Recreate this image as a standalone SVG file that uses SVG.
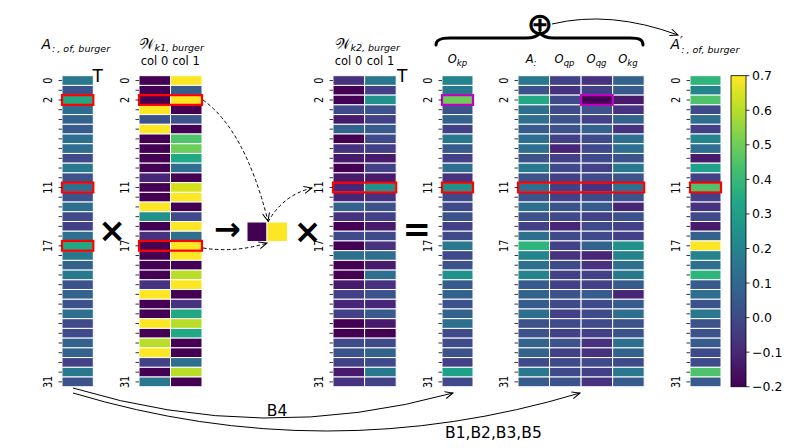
<svg xmlns="http://www.w3.org/2000/svg" width="789" height="448" viewBox="0 0 789 448">
<style>
text{font-family:"DejaVu Sans","Liberation Sans",sans-serif;fill:#000}
.it{font-style:italic}
.lab{font-size:12.5px;text-anchor:middle}
.col{font-size:11.5px;text-anchor:middle}
.cb{font-size:12.5px}
.hm rect{stroke:#fff;stroke-width:1;vector-effect:non-scaling-stroke}
.hl{fill:none;stroke:#f00;stroke-width:2.2}
.mg{fill:none;stroke:#bf00bf;stroke-width:2.2}
.tk{stroke:#000;stroke-width:0.8;fill:none}
.op{font-weight:bold;text-anchor:middle}
.con{fill:none;stroke:#000;stroke-width:1}
.dash{stroke-dasharray:3.5,2.5}
.a{fill:#440154}.b{fill:#481a6c}.c{fill:#482677}.d{fill:#46327e}.e{fill:#424086}.f{fill:#3e4a89}.g{fill:#3b528b}.h{fill:#375b8d}.i{fill:#33638d}.j{fill:#2e6e8e}.k{fill:#2a788e}.l{fill:#25838e}.m{fill:#21918c}.n{fill:#1fa088}.o{fill:#22a884}.p{fill:#2fb47c}.q{fill:#4ec36b}.r{fill:#6ccd5a}.s{fill:#b8de29}.t{fill:#d5e21a}.u{fill:#fde725}
</style>
<defs>
<path id="tk" class="tk" d="M0,80.56h-3.5M0,90.28h-3.5M0,100h-3.5M0,109.72h-3.5M0,119.44h-3.5M0,129.16h-3.5M0,138.88h-3.5M0,148.6h-3.5M0,158.32h-3.5M0,168.04h-3.5M0,177.76h-3.5M0,187.48h-3.5M0,197.2h-3.5M0,206.92h-3.5M0,216.64h-3.5M0,226.36h-3.5M0,236.08h-3.5M0,245.8h-3.5M0,255.52h-3.5M0,265.24h-3.5M0,274.96h-3.5M0,284.68h-3.5M0,294.4h-3.5M0,304.12h-3.5M0,313.84h-3.5M0,323.56h-3.5M0,333.28h-3.5M0,343h-3.5M0,352.72h-3.5M0,362.44h-3.5M0,372.16h-3.5M0,381.88h-3.5"/>
<marker id="ah" markerWidth="10" markerHeight="10" refX="8" refY="4" orient="auto" markerUnits="userSpaceOnUse"><path d="M0,0.5 L8,4 L0,7.5" fill="none" stroke="#000" stroke-width="1"/></marker>
<linearGradient id="vir" x1="0" y1="1" x2="0" y2="0">
<stop offset="0" stop-color="#440154"/><stop offset="0.1" stop-color="#482475"/><stop offset="0.2" stop-color="#414487"/><stop offset="0.3" stop-color="#355f8d"/><stop offset="0.4" stop-color="#2a788e"/><stop offset="0.5" stop-color="#21918c"/><stop offset="0.6" stop-color="#22a884"/><stop offset="0.7" stop-color="#44bf70"/><stop offset="0.8" stop-color="#7ad151"/><stop offset="0.9" stop-color="#bddf26"/><stop offset="1" stop-color="#fde725"/>
</linearGradient>
</defs>

<g id="matA">
<text x="41.5" y="49.3" class="it" font-size="14">A<tspan font-size="9.5" dy="2.4" dx="1">:</tspan><tspan font-size="9.5" dx="2">, of, burger</tspan></text>
<text x="92.5" y="81.7" font-size="17">T</text>
<g class="hm" transform="translate(62,75.7) scale(31.3,9.72)">
<rect y="0" width="1" height="1" class="k"/><rect y="1" width="1" height="1" class="g"/><rect y="2" width="1" height="1" class="o"/><rect y="3" width="1" height="1" class="j"/><rect y="4" width="1" height="1" class="i"/><rect y="5" width="1" height="1" class="h"/><rect y="6" width="1" height="1" class="j"/><rect y="7" width="1" height="1" class="j"/><rect y="8" width="1" height="1" class="f"/><rect y="9" width="1" height="1" class="k"/><rect y="10" width="1" height="1" class="g"/><rect y="11" width="1" height="1" class="j"/><rect y="12" width="1" height="1" class="g"/><rect y="13" width="1" height="1" class="j"/><rect y="14" width="1" height="1" class="f"/><rect y="15" width="1" height="1" class="e"/><rect y="16" width="1" height="1" class="j"/><rect y="17" width="1" height="1" class="o"/><rect y="18" width="1" height="1" class="k"/><rect y="19" width="1" height="1" class="i"/><rect y="20" width="1" height="1" class="k"/><rect y="21" width="1" height="1" class="g"/><rect y="22" width="1" height="1" class="i"/><rect y="23" width="1" height="1" class="g"/><rect y="24" width="1" height="1" class="j"/><rect y="25" width="1" height="1" class="f"/><rect y="26" width="1" height="1" class="f"/><rect y="27" width="1" height="1" class="i"/><rect y="28" width="1" height="1" class="i"/><rect y="29" width="1" height="1" class="e"/><rect y="30" width="1" height="1" class="k"/><rect y="31" width="1" height="1" class="g"/>
</g>
<rect class="hl" x="62" y="95.14" width="31.3" height="9.72"/><rect class="hl" x="62" y="182.62" width="31.3" height="9.72"/><rect class="hl" x="62" y="240.94" width="31.3" height="9.72"/>
<use href="#tk" x="62"/>
<g class="lab"><text transform="translate(51.5,80.56) rotate(-90) scale(0.78,1)">0</text><text transform="translate(51.5,100) rotate(-90) scale(0.78,1)">2</text><text transform="translate(51.5,187.48) rotate(-90) scale(0.78,1)">11</text><text transform="translate(51.5,245.8) rotate(-90) scale(0.78,1)">17</text><text transform="translate(51.5,381.88) rotate(-90) scale(0.78,1)">31</text></g>
</g>

<g id="matW1">
<text x="138.5" y="49" font-size="14.5">𝒲<tspan class="it" font-size="9.5" dy="1.7">k1, burger</tspan></text>
<text class="col" x="154.5" y="64.5">col 0</text><text class="col" x="186" y="64.5">col 1</text>
<g class="hm" transform="translate(139,75.7) scale(31.5,9.72)">
<rect y="0" width="1" height="1" class="a"/><rect y="1" width="1" height="1" class="a"/><rect y="2" width="1" height="1" class="a"/><rect y="3" width="1" height="1" class="u"/><rect y="4" width="1" height="1" class="g"/><rect y="5" width="1" height="1" class="u"/><rect y="6" width="1" height="1" class="a"/><rect y="7" width="1" height="1" class="a"/><rect y="8" width="1" height="1" class="a"/><rect y="9" width="1" height="1" class="a"/><rect y="10" width="1" height="1" class="c"/><rect y="11" width="1" height="1" class="a"/><rect y="12" width="1" height="1" class="a"/><rect y="13" width="1" height="1" class="u"/><rect y="14" width="1" height="1" class="m"/><rect y="15" width="1" height="1" class="a"/><rect y="16" width="1" height="1" class="d"/><rect y="17" width="1" height="1" class="a"/><rect y="18" width="1" height="1" class="a"/><rect y="19" width="1" height="1" class="a"/><rect y="20" width="1" height="1" class="a"/><rect y="21" width="1" height="1" class="d"/><rect y="22" width="1" height="1" class="u"/><rect y="23" width="1" height="1" class="a"/><rect y="24" width="1" height="1" class="a"/><rect y="25" width="1" height="1" class="u"/><rect y="26" width="1" height="1" class="a"/><rect y="27" width="1" height="1" class="s"/><rect y="28" width="1" height="1" class="u"/><rect y="29" width="1" height="1" class="e"/><rect y="30" width="1" height="1" class="a"/><rect y="31" width="1" height="1" class="k"/>
<rect x="1" y="0" width="1" height="1" class="u"/><rect x="1" y="1" width="1" height="1" class="h"/><rect x="1" y="2" width="1" height="1" class="u"/><rect x="1" y="3" width="1" height="1" class="a"/><rect x="1" y="4" width="1" height="1" class="g"/><rect x="1" y="5" width="1" height="1" class="a"/><rect x="1" y="6" width="1" height="1" class="q"/><rect x="1" y="7" width="1" height="1" class="r"/><rect x="1" y="8" width="1" height="1" class="o"/><rect x="1" y="9" width="1" height="1" class="j"/><rect x="1" y="10" width="1" height="1" class="a"/><rect x="1" y="11" width="1" height="1" class="t"/><rect x="1" y="12" width="1" height="1" class="u"/><rect x="1" y="13" width="1" height="1" class="a"/><rect x="1" y="14" width="1" height="1" class="f"/><rect x="1" y="15" width="1" height="1" class="u"/><rect x="1" y="16" width="1" height="1" class="j"/><rect x="1" y="17" width="1" height="1" class="u"/><rect x="1" y="18" width="1" height="1" class="u"/><rect x="1" y="19" width="1" height="1" class="a"/><rect x="1" y="20" width="1" height="1" class="s"/><rect x="1" y="21" width="1" height="1" class="u"/><rect x="1" y="22" width="1" height="1" class="a"/><rect x="1" y="23" width="1" height="1" class="d"/><rect x="1" y="24" width="1" height="1" class="o"/><rect x="1" y="25" width="1" height="1" class="s"/><rect x="1" y="26" width="1" height="1" class="o"/><rect x="1" y="27" width="1" height="1" class="a"/><rect x="1" y="28" width="1" height="1" class="a"/><rect x="1" y="29" width="1" height="1" class="j"/><rect x="1" y="30" width="1" height="1" class="s"/><rect x="1" y="31" width="1" height="1" class="a"/>
</g>
<rect class="hl" x="139" y="95.14" width="63" height="9.72"/><rect class="hl" x="139" y="240.94" width="63" height="9.72"/>
<use href="#tk" x="139"/>
<g class="lab"><text transform="translate(128.5,80.56) rotate(-90) scale(0.78,1)">0</text><text transform="translate(128.5,100) rotate(-90) scale(0.78,1)">2</text><text transform="translate(128.5,187.48) rotate(-90) scale(0.78,1)">11</text><text transform="translate(128.5,245.8) rotate(-90) scale(0.78,1)">17</text><text transform="translate(128.5,381.88) rotate(-90) scale(0.78,1)">31</text></g>
</g>

<g id="opTimes1"><text class="op" x="112" y="241.5" font-size="33">×</text></g>
<g id="opArrow"><text class="op" x="227.5" y="240" font-size="32">→</text></g>

<g id="vec">
<rect x="247" y="222" width="20" height="19.5" class="a" stroke="#fff" stroke-width="1"/>
<rect x="267" y="222" width="20.5" height="19.5" class="u" stroke="#fff" stroke-width="1"/>
</g>

<g id="opTimes2"><text class="op" x="307.5" y="243" font-size="33">×</text></g>

<g id="matW2">
<text x="334.5" y="49" font-size="14.5">𝒲<tspan class="it" font-size="9.5" dy="1.7">k2, burger</tspan></text>
<text class="col" x="348.5" y="64.5">col 0</text><text class="col" x="380.5" y="64.5">col 1</text>
<text x="397" y="81.7" font-size="17">T</text>
<g class="hm" transform="translate(333,75.7) scale(31.6,9.72)">
<rect y="0" width="1" height="1" class="d"/><rect y="1" width="1" height="1" class="a"/><rect y="2" width="1" height="1" class="a"/><rect y="3" width="1" height="1" class="f"/><rect y="4" width="1" height="1" class="b"/><rect y="5" width="1" height="1" class="i"/><rect y="6" width="1" height="1" class="a"/><rect y="7" width="1" height="1" class="d"/><rect y="8" width="1" height="1" class="b"/><rect y="9" width="1" height="1" class="a"/><rect y="10" width="1" height="1" class="b"/><rect y="11" width="1" height="1" class="c"/><rect y="12" width="1" height="1" class="c"/><rect y="13" width="1" height="1" class="i"/><rect y="14" width="1" height="1" class="d"/><rect y="15" width="1" height="1" class="a"/><rect y="16" width="1" height="1" class="f"/><rect y="17" width="1" height="1" class="a"/><rect y="18" width="1" height="1" class="j"/><rect y="19" width="1" height="1" class="a"/><rect y="20" width="1" height="1" class="a"/><rect y="21" width="1" height="1" class="b"/><rect y="22" width="1" height="1" class="e"/><rect y="23" width="1" height="1" class="c"/><rect y="24" width="1" height="1" class="e"/><rect y="25" width="1" height="1" class="a"/><rect y="26" width="1" height="1" class="a"/><rect y="27" width="1" height="1" class="f"/><rect y="28" width="1" height="1" class="g"/><rect y="29" width="1" height="1" class="e"/><rect y="30" width="1" height="1" class="b"/><rect y="31" width="1" height="1" class="d"/>
<rect x="1" y="0" width="1" height="1" class="k"/><rect x="1" y="1" width="1" height="1" class="e"/><rect x="1" y="2" width="1" height="1" class="m"/><rect x="1" y="3" width="1" height="1" class="g"/><rect x="1" y="4" width="1" height="1" class="e"/><rect x="1" y="5" width="1" height="1" class="h"/><rect x="1" y="6" width="1" height="1" class="f"/><rect x="1" y="7" width="1" height="1" class="e"/><rect x="1" y="8" width="1" height="1" class="b"/><rect x="1" y="9" width="1" height="1" class="e"/><rect x="1" y="10" width="1" height="1" class="b"/><rect x="1" y="11" width="1" height="1" class="m"/><rect x="1" y="12" width="1" height="1" class="d"/><rect x="1" y="13" width="1" height="1" class="g"/><rect x="1" y="14" width="1" height="1" class="e"/><rect x="1" y="15" width="1" height="1" class="b"/><rect x="1" y="16" width="1" height="1" class="f"/><rect x="1" y="17" width="1" height="1" class="d"/><rect x="1" y="18" width="1" height="1" class="j"/><rect x="1" y="19" width="1" height="1" class="b"/><rect x="1" y="20" width="1" height="1" class="j"/><rect x="1" y="21" width="1" height="1" class="d"/><rect x="1" y="22" width="1" height="1" class="g"/><rect x="1" y="23" width="1" height="1" class="c"/><rect x="1" y="24" width="1" height="1" class="h"/><rect x="1" y="25" width="1" height="1" class="b"/><rect x="1" y="26" width="1" height="1" class="a"/><rect x="1" y="27" width="1" height="1" class="f"/><rect x="1" y="28" width="1" height="1" class="i"/><rect x="1" y="29" width="1" height="1" class="f"/><rect x="1" y="30" width="1" height="1" class="k"/><rect x="1" y="31" width="1" height="1" class="e"/>
</g>
<rect class="hl" x="333" y="182.62" width="63.2" height="9.72"/>
<use href="#tk" x="333"/>
<g class="lab"><text transform="translate(322.5,80.56) rotate(-90) scale(0.78,1)">0</text><text transform="translate(322.5,100) rotate(-90) scale(0.78,1)">2</text><text transform="translate(322.5,187.48) rotate(-90) scale(0.78,1)">11</text><text transform="translate(322.5,245.8) rotate(-90) scale(0.78,1)">17</text><text transform="translate(322.5,381.88) rotate(-90) scale(0.78,1)">31</text></g>
</g>

<g id="opEq"><text class="op" x="416.7" y="241" font-size="34">=</text></g>

<g id="matOkp">
<text x="457.5" y="63" text-anchor="middle" class="it" font-size="11.5">O<tspan font-size="8.5" dy="2.5">kp</tspan></text>
<g class="hm" transform="translate(442,75.7) scale(31,9.72)">
<rect y="0" width="1" height="1" class="l"/><rect y="1" width="1" height="1" class="k"/><rect y="2" width="1" height="1" class="r"/><rect y="3" width="1" height="1" class="g"/><rect y="4" width="1" height="1" class="i"/><rect y="5" width="1" height="1" class="e"/><rect y="6" width="1" height="1" class="k"/><rect y="7" width="1" height="1" class="h"/><rect y="8" width="1" height="1" class="e"/><rect y="9" width="1" height="1" class="j"/><rect y="10" width="1" height="1" class="d"/><rect y="11" width="1" height="1" class="m"/><rect y="12" width="1" height="1" class="f"/><rect y="13" width="1" height="1" class="f"/><rect y="14" width="1" height="1" class="g"/><rect y="15" width="1" height="1" class="e"/><rect y="16" width="1" height="1" class="f"/><rect y="17" width="1" height="1" class="k"/><rect y="18" width="1" height="1" class="f"/><rect y="19" width="1" height="1" class="g"/><rect y="20" width="1" height="1" class="m"/><rect y="21" width="1" height="1" class="h"/><rect y="22" width="1" height="1" class="i"/><rect y="23" width="1" height="1" class="g"/><rect y="24" width="1" height="1" class="i"/><rect y="25" width="1" height="1" class="j"/><rect y="26" width="1" height="1" class="f"/><rect y="27" width="1" height="1" class="f"/><rect y="28" width="1" height="1" class="g"/><rect y="29" width="1" height="1" class="e"/><rect y="30" width="1" height="1" class="n"/><rect y="31" width="1" height="1" class="f"/>
</g>
<rect class="mg" x="442" y="95.14" width="31" height="9.72"/><rect class="hl" x="442" y="182.62" width="31" height="9.72"/>
<use href="#tk" x="442"/>
<g class="lab"><text transform="translate(431.5,80.56) rotate(-90) scale(0.78,1)">0</text><text transform="translate(431.5,100) rotate(-90) scale(0.78,1)">2</text><text transform="translate(431.5,187.48) rotate(-90) scale(0.78,1)">11</text><text transform="translate(431.5,245.8) rotate(-90) scale(0.78,1)">17</text><text transform="translate(431.5,381.88) rotate(-90) scale(0.78,1)">31</text></g>
</g>

<g id="matBig">
<g class="it" font-size="11.5" text-anchor="middle">
<text x="531" y="63">A<tspan font-size="8.5" dy="2.5">:</tspan></text>
<text x="564.5" y="63">O<tspan font-size="8.5" dy="2.5">qp</tspan></text>
<text x="596.5" y="63">O<tspan font-size="8.5" dy="2.5">qg</tspan></text>
<text x="628" y="63">O<tspan font-size="8.5" dy="2.5">kg</tspan></text>
</g>
<g class="hm" transform="translate(518,75.7) scale(31.55,9.72)">
<rect y="0" width="1" height="1" class="k"/><rect y="1" width="1" height="1" class="g"/><rect y="2" width="1" height="1" class="o"/><rect y="3" width="1" height="1" class="j"/><rect y="4" width="1" height="1" class="j"/><rect y="5" width="1" height="1" class="h"/><rect y="6" width="1" height="1" class="j"/><rect y="7" width="1" height="1" class="j"/><rect y="8" width="1" height="1" class="g"/><rect y="9" width="1" height="1" class="k"/><rect y="10" width="1" height="1" class="g"/><rect y="11" width="1" height="1" class="j"/><rect y="12" width="1" height="1" class="g"/><rect y="13" width="1" height="1" class="j"/><rect y="14" width="1" height="1" class="g"/><rect y="15" width="1" height="1" class="e"/><rect y="16" width="1" height="1" class="j"/><rect y="17" width="1" height="1" class="p"/><rect y="18" width="1" height="1" class="l"/><rect y="19" width="1" height="1" class="j"/><rect y="20" width="1" height="1" class="l"/><rect y="21" width="1" height="1" class="h"/><rect y="22" width="1" height="1" class="i"/><rect y="23" width="1" height="1" class="h"/><rect y="24" width="1" height="1" class="j"/><rect y="25" width="1" height="1" class="g"/><rect y="26" width="1" height="1" class="g"/><rect y="27" width="1" height="1" class="i"/><rect y="28" width="1" height="1" class="i"/><rect y="29" width="1" height="1" class="f"/><rect y="30" width="1" height="1" class="k"/><rect y="31" width="1" height="1" class="h"/>
<rect x="1" y="0" width="1" height="1" class="e"/><rect x="1" y="1" width="1" height="1" class="d"/><rect x="1" y="2" width="1" height="1" class="f"/><rect x="1" y="3" width="1" height="1" class="f"/><rect x="1" y="4" width="1" height="1" class="g"/><rect x="1" y="5" width="1" height="1" class="g"/><rect x="1" y="6" width="1" height="1" class="e"/><rect x="1" y="7" width="1" height="1" class="c"/><rect x="1" y="8" width="1" height="1" class="e"/><rect x="1" y="9" width="1" height="1" class="f"/><rect x="1" y="10" width="1" height="1" class="e"/><rect x="1" y="11" width="1" height="1" class="e"/><rect x="1" y="12" width="1" height="1" class="e"/><rect x="1" y="13" width="1" height="1" class="g"/><rect x="1" y="14" width="1" height="1" class="f"/><rect x="1" y="15" width="1" height="1" class="c"/><rect x="1" y="16" width="1" height="1" class="f"/><rect x="1" y="17" width="1" height="1" class="e"/><rect x="1" y="18" width="1" height="1" class="d"/><rect x="1" y="19" width="1" height="1" class="f"/><rect x="1" y="20" width="1" height="1" class="e"/><rect x="1" y="21" width="1" height="1" class="e"/><rect x="1" y="22" width="1" height="1" class="g"/><rect x="1" y="23" width="1" height="1" class="f"/><rect x="1" y="24" width="1" height="1" class="e"/><rect x="1" y="25" width="1" height="1" class="f"/><rect x="1" y="26" width="1" height="1" class="e"/><rect x="1" y="27" width="1" height="1" class="g"/><rect x="1" y="28" width="1" height="1" class="e"/><rect x="1" y="29" width="1" height="1" class="f"/><rect x="1" y="30" width="1" height="1" class="f"/><rect x="1" y="31" width="1" height="1" class="g"/>
<rect x="2" y="0" width="1" height="1" class="d"/><rect x="2" y="1" width="1" height="1" class="e"/><rect x="2" y="2" width="1" height="1" class="a"/><rect x="2" y="3" width="1" height="1" class="g"/><rect x="2" y="4" width="1" height="1" class="e"/><rect x="2" y="5" width="1" height="1" class="i"/><rect x="2" y="6" width="1" height="1" class="f"/><rect x="2" y="7" width="1" height="1" class="f"/><rect x="2" y="8" width="1" height="1" class="f"/><rect x="2" y="9" width="1" height="1" class="e"/><rect x="2" y="10" width="1" height="1" class="f"/><rect x="2" y="11" width="1" height="1" class="d"/><rect x="2" y="12" width="1" height="1" class="f"/><rect x="2" y="13" width="1" height="1" class="h"/><rect x="2" y="14" width="1" height="1" class="e"/><rect x="2" y="15" width="1" height="1" class="f"/><rect x="2" y="16" width="1" height="1" class="f"/><rect x="2" y="17" width="1" height="1" class="i"/><rect x="2" y="18" width="1" height="1" class="c"/><rect x="2" y="19" width="1" height="1" class="d"/><rect x="2" y="20" width="1" height="1" class="e"/><rect x="2" y="21" width="1" height="1" class="e"/><rect x="2" y="22" width="1" height="1" class="h"/><rect x="2" y="23" width="1" height="1" class="f"/><rect x="2" y="24" width="1" height="1" class="f"/><rect x="2" y="25" width="1" height="1" class="f"/><rect x="2" y="26" width="1" height="1" class="e"/><rect x="2" y="27" width="1" height="1" class="d"/><rect x="2" y="28" width="1" height="1" class="d"/><rect x="2" y="29" width="1" height="1" class="f"/><rect x="2" y="30" width="1" height="1" class="e"/><rect x="2" y="31" width="1" height="1" class="d"/>
<rect x="3" y="0" width="1" height="1" class="i"/><rect x="3" y="1" width="1" height="1" class="h"/><rect x="3" y="2" width="1" height="1" class="b"/><rect x="3" y="3" width="1" height="1" class="d"/><rect x="3" y="4" width="1" height="1" class="i"/><rect x="3" y="5" width="1" height="1" class="d"/><rect x="3" y="6" width="1" height="1" class="j"/><rect x="3" y="7" width="1" height="1" class="j"/><rect x="3" y="8" width="1" height="1" class="g"/><rect x="3" y="9" width="1" height="1" class="k"/><rect x="3" y="10" width="1" height="1" class="g"/><rect x="3" y="11" width="1" height="1" class="j"/><rect x="3" y="12" width="1" height="1" class="g"/><rect x="3" y="13" width="1" height="1" class="c"/><rect x="3" y="14" width="1" height="1" class="g"/><rect x="3" y="15" width="1" height="1" class="e"/><rect x="3" y="16" width="1" height="1" class="e"/><rect x="3" y="17" width="1" height="1" class="m"/><rect x="3" y="18" width="1" height="1" class="l"/><rect x="3" y="19" width="1" height="1" class="j"/><rect x="3" y="20" width="1" height="1" class="k"/><rect x="3" y="21" width="1" height="1" class="h"/><rect x="3" y="22" width="1" height="1" class="c"/><rect x="3" y="23" width="1" height="1" class="h"/><rect x="3" y="24" width="1" height="1" class="j"/><rect x="3" y="25" width="1" height="1" class="g"/><rect x="3" y="26" width="1" height="1" class="g"/><rect x="3" y="27" width="1" height="1" class="j"/><rect x="3" y="28" width="1" height="1" class="i"/><rect x="3" y="29" width="1" height="1" class="f"/><rect x="3" y="30" width="1" height="1" class="k"/><rect x="3" y="31" width="1" height="1" class="h"/>
</g>
<rect class="mg" x="581.1" y="95.14" width="31.55" height="9.72"/><rect class="hl" x="518" y="182.62" width="126.2" height="9.72"/>
<use href="#tk" x="518"/>
<g class="lab"><text transform="translate(507.5,80.56) rotate(-90) scale(0.78,1)">0</text><text transform="translate(507.5,100) rotate(-90) scale(0.78,1)">2</text><text transform="translate(507.5,187.48) rotate(-90) scale(0.78,1)">11</text><text transform="translate(507.5,245.8) rotate(-90) scale(0.78,1)">17</text><text transform="translate(507.5,381.88) rotate(-90) scale(0.78,1)">31</text></g>
</g>

<g id="sumOp">
<path d="M436,45 C436,40 440,38 450,38 L526,38 C533,38 537,37 540,33 C543,37 547,38 554,38 L630,38 C640,38 643,40 643,45" fill="none" stroke="#000" stroke-width="3" stroke-linecap="round"/>
<text class="op" x="540" y="35" font-size="32">⊕</text>
</g>

<g id="matAp">
<text x="670.5" y="49.3" class="it" font-size="14">A<tspan font-size="12" dy="-4">′</tspan><tspan font-size="9.5" dy="7.4" dx="-1.5">:</tspan><tspan font-size="9.5" dx="2">, of, burger</tspan></text>
<g class="hm" transform="translate(690,75.7) scale(31,9.72)">
<rect y="0" width="1" height="1" class="p"/><rect y="1" width="1" height="1" class="l"/><rect y="2" width="1" height="1" class="q"/><rect y="3" width="1" height="1" class="f"/><rect y="4" width="1" height="1" class="j"/><rect y="5" width="1" height="1" class="e"/><rect y="6" width="1" height="1" class="l"/><rect y="7" width="1" height="1" class="j"/><rect y="8" width="1" height="1" class="b"/><rect y="9" width="1" height="1" class="n"/><rect y="10" width="1" height="1" class="e"/><rect y="11" width="1" height="1" class="q"/><rect y="12" width="1" height="1" class="e"/><rect y="13" width="1" height="1" class="d"/><rect y="14" width="1" height="1" class="f"/><rect y="15" width="1" height="1" class="b"/><rect y="16" width="1" height="1" class="i"/><rect y="17" width="1" height="1" class="u"/><rect y="18" width="1" height="1" class="l"/><rect y="19" width="1" height="1" class="j"/><rect y="20" width="1" height="1" class="p"/><rect y="21" width="1" height="1" class="h"/><rect y="22" width="1" height="1" class="j"/><rect y="23" width="1" height="1" class="g"/><rect y="24" width="1" height="1" class="k"/><rect y="25" width="1" height="1" class="g"/><rect y="26" width="1" height="1" class="g"/><rect y="27" width="1" height="1" class="h"/><rect y="28" width="1" height="1" class="f"/><rect y="29" width="1" height="1" class="f"/><rect y="30" width="1" height="1" class="q"/><rect y="31" width="1" height="1" class="h"/>
</g>
<rect class="hl" x="690" y="182.62" width="31" height="9.72"/>
<use href="#tk" x="690"/>
<g class="lab"><text transform="translate(679.5,80.56) rotate(-90) scale(0.78,1)">0</text><text transform="translate(679.5,100) rotate(-90) scale(0.78,1)">2</text><text transform="translate(679.5,187.48) rotate(-90) scale(0.78,1)">11</text><text transform="translate(679.5,245.8) rotate(-90) scale(0.78,1)">17</text><text transform="translate(679.5,381.88) rotate(-90) scale(0.78,1)">31</text></g>
</g>

<g id="colorbar">
<rect x="731" y="75.7" width="15" height="311.04" fill="url(#vir)" stroke="#000" stroke-width="0.8"/>
<path class="tk" d="M746,75.7h3.5M746,110.26h3.5M746,144.82h3.5M746,179.38h3.5M746,213.94h3.5M746,248.5h3.5M746,283.06h3.5M746,317.62h3.5M746,352.18h3.5M746,386.74h3.5"/>
<g class="cb"><text x="752" y="80.2">0.7</text><text x="752" y="114.8">0.6</text><text x="752" y="149.3">0.5</text><text x="752" y="183.9">0.4</text><text x="752" y="218.4">0.3</text><text x="752" y="253">0.2</text><text x="752" y="287.6">0.1</text><text x="752" y="322.1">0.0</text><text x="752" y="356.7">−0.1</text><text x="752" y="391.2">−0.2</text></g>
</g>

<g id="connectors">
<path class="con dash" d="M203,100 Q245,130 268,221" marker-end="url(#ah)"/>
<path class="con dash" d="M203,248 Q235,253 267,243" marker-end="url(#ah)"/>
<path class="con dash" d="M268,222 Q283,195 312,188" marker-end="url(#ah)"/>
<path class="con" d="M552,24 Q610,10 678,35" marker-end="url(#ah)"/>
<path class="con" d="M73,388 Q263,445.5 453,393" marker-end="url(#ah)"/>
<path class="con" d="M73,393 Q326.5,469 580,393" marker-end="url(#ah)"/>
<text x="277" y="416" font-size="15.5" text-anchor="middle">B4</text>
<text x="445" y="438" font-size="15.5">B1,B2,B3,B5</text>
</g>
</svg>
